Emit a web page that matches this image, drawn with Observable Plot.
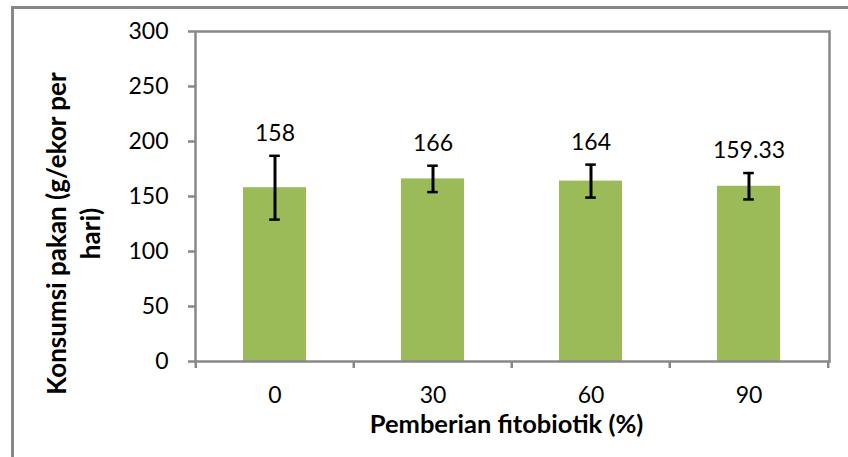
<!DOCTYPE html>
<html>
<head>
<meta charset="utf-8">
<script src="https://cdn.jsdelivr.net/npm/d3@7"></script>
<script src="https://cdn.jsdelivr.net/npm/@observablehq/plot@0.6"></script>
<style>
  html, body { margin: 0; padding: 0; background: #fff; }
  #wrap { position: relative; width: 848px; height: 457px; overflow: hidden; }
  #outer { position: absolute; left: 11px; top: 6px; width: 900px; height: 500px;
           border-top: 3px solid #888; border-left: 3px solid #888; }
  #chart { position: absolute; left: 0; top: 0; }
</style>
</head>
<body>
<div id="wrap"><div id="outer"></div><div id="chart"></div></div>
<script>
const categories = ["0", "30", "60", "90"];
const values = [158, 166, 164, 159.33];
const errors = [29, 12, 15, 12];
const valueLabels = ["158", "166", "164", "159.33"];
const yTicks = [0, 50, 100, 150, 200, 250, 300];
const xTitle = "Pemberian fitobiotik (%)";
const yTitle = "Konsumsi pakan (g/ekor per\nhari)";

const data = categories.map((c, i) => ({
  cat: c, value: values[i], lo: values[i] - errors[i], hi: values[i] + errors[i], label: valueLabels[i]
}));

const W = 848, H = 457, mL = 195, mR = 19, mT = 31, mB = 96;
const step = (W - mL - mR) / categories.length;
const barW = step * 0.4;
const capW = 11;

const plot = Plot.plot({
  width: W, height: H,
  marginLeft: mL, marginRight: mR, marginTop: mT, marginBottom: mB,
  style: { fontFamily: "Lato, 'Open Sans', sans-serif", fontSize: "22px", color: "#000", background: "transparent" },
  x: { domain: categories, paddingInner: 0.6, paddingOuter: 0.3, label: null },
  y: { domain: [0, 300], label: null },
  marks: [
    Plot.barY(data, { x: "cat", y: "value", fill: "#9BBB59" }),
    Plot.frame({ stroke: "#888", strokeWidth: 2.5 }),
    Plot.axisY({ ticks: yTicks, tickSize: 7, tickPadding: 20, stroke: "#888", strokeWidth: 2.5, fontSize: 23, fill: "#000", label: null }),
    Plot.axisX({ tickSize: 7, dx: -step / 2, tickFormat: () => "", stroke: "#888", strokeWidth: 2.5, label: null }),
    Plot.axisX({ ticks: [categories[categories.length - 1]], tickSize: 7, dx: step / 2, tickFormat: () => "", stroke: "#888", strokeWidth: 2.5, label: null }),
    Plot.axisX({ tickSize: 0, tickPadding: 25, fontSize: 23, fill: "#000", label: null }),
    Plot.ruleX(data, { x: "cat", y1: "lo", y2: "hi", stroke: "#000", strokeWidth: 3 }),
    Plot.tickY(data, { x: "cat", y: "lo", stroke: "#000", strokeWidth: 2.5, insetLeft: (barW - capW) / 2, insetRight: (barW - capW) / 2 }),
    Plot.tickY(data, { x: "cat", y: "hi", stroke: "#000", strokeWidth: 2.5, insetLeft: (barW - capW) / 2, insetRight: (barW - capW) / 2 }),
    Plot.text(data, { x: "cat", y: "hi", text: "label", dy: -22, fontSize: 23, fill: "#000" }),
    Plot.text([xTitle], { frameAnchor: "bottom", dy: 71, dx: -6, fontSize: 25.5, fontWeight: "bold", fill: "#000" }),
    Plot.text([yTitle], { frameAnchor: "left", textAnchor: "middle", rotate: -90, dx: -123, dy: 37, lineHeight: 1.3, fontSize: 26, fontWeight: "bold", fill: "#000" })
  ]
});
document.getElementById("chart").appendChild(plot);
</script>
</body>
</html>
